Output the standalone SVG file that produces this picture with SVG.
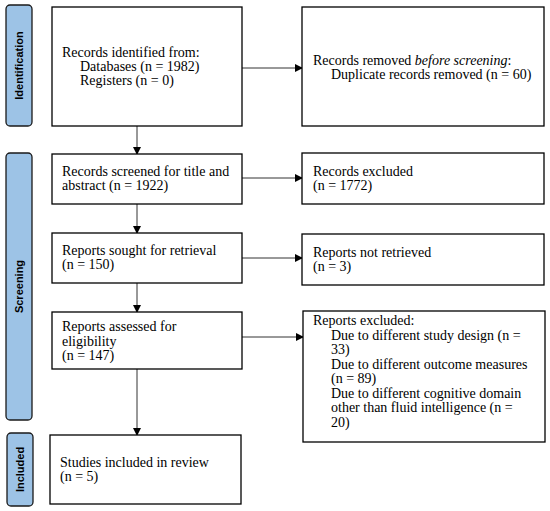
<svg xmlns="http://www.w3.org/2000/svg" width="550" height="511" viewBox="0 0 550 511">
<defs>
<marker id="ah" markerWidth="8" markerHeight="8" refX="7" refY="4" orient="auto" markerUnits="userSpaceOnUse">
<path d="M0,0 L8,4 L0,8 Z" fill="#000"/>
</marker>
</defs>
<style>
.box{fill:#fff;stroke:#000;stroke-width:1.3}
.bar{fill:#9DC3E6;stroke:#1a1a1a;stroke-width:1.3}
.t{font-family:"Liberation Serif","Times New Roman",serif;font-size:14px;fill:#000}
.lab{font-family:"Liberation Sans",Arial,sans-serif;font-size:11px;font-weight:bold;fill:#000}
.c{stroke:#333;stroke-width:1;fill:none}
</style>
<rect width="550" height="511" fill="#fff"/>
<g id="phase-identification">
<rect class="bar" x="6" y="5" width="26" height="121" rx="4"/>
<text class="lab" transform="translate(23,65.5) rotate(-90)" text-anchor="middle">Identification</text>
</g>
<g id="phase-screening">
<rect class="bar" x="6" y="153" width="26" height="267" rx="4"/>
<text class="lab" transform="translate(23,286.5) rotate(-90)" text-anchor="middle">Screening</text>
</g>
<g id="phase-included">
<rect class="bar" x="7" y="433" width="26" height="73" rx="4"/>
<text class="lab" transform="translate(24,469.5) rotate(-90)" text-anchor="middle">Included</text>
</g>
<g id="connectors">
<line class="c" x1="242" y1="68" x2="302" y2="68" marker-end="url(#ah)"/>
<line class="c" x1="137" y1="126" x2="137" y2="154" marker-end="url(#ah)"/>
<line class="c" x1="242" y1="178" x2="302" y2="178" marker-end="url(#ah)"/>
<line class="c" x1="137" y1="204" x2="137" y2="233" marker-end="url(#ah)"/>
<line class="c" x1="242" y1="258" x2="302" y2="258" marker-end="url(#ah)"/>
<line class="c" x1="137" y1="283" x2="137" y2="312" marker-end="url(#ah)"/>
<line class="c" x1="242" y1="337" x2="303" y2="337" marker-end="url(#ah)"/>
<line class="c" x1="137" y1="369" x2="137" y2="435" marker-end="url(#ah)"/>
</g>
<g id="identified">
<rect class="box" x="52" y="7" width="190" height="119"/>
<text class="t" x="62" y="57">Records identified from:</text>
<text class="t" x="80" y="71">Databases (n = 1982)</text>
<text class="t" x="80" y="85">Registers (n = 0)</text>
</g>
<g id="removed">
<rect class="box" x="302" y="7" width="242" height="119"/>
<text class="t" x="313" y="65">Records removed <tspan font-style="italic">before screening</tspan>:</text>
<text class="t" x="331" y="79">Duplicate records removed (n = 60)</text>
</g>
<g id="screened">
<rect class="box" x="52" y="154" width="190" height="50"/>
<text class="t" x="62" y="176">Records screened for title and</text>
<text class="t" x="62" y="190">abstract (n = 1922)</text>
</g>
<g id="excluded">
<rect class="box" x="302" y="153" width="242" height="51"/>
<text class="t" x="313" y="176">Records excluded</text>
<text class="t" x="313" y="190">(n = 1772)</text>
</g>
<g id="sought">
<rect class="box" x="52" y="233" width="190" height="50"/>
<text class="t" x="62" y="255">Reports sought for retrieval</text>
<text class="t" x="62" y="269">(n = 150)</text>
</g>
<g id="not-retrieved">
<rect class="box" x="302" y="234" width="242" height="51"/>
<text class="t" x="313" y="257">Reports not retrieved</text>
<text class="t" x="313" y="271">(n = 3)</text>
</g>
<g id="assessed">
<rect class="box" x="52" y="312" width="190" height="57"/>
<text class="t" x="62" y="331">Reports assessed for</text>
<text class="t" x="62" y="345.5">eligibility</text>
<text class="t" x="62" y="360">(n = 147)</text>
</g>
<g id="reports-excluded">
<rect class="box" x="303" y="311" width="242" height="131"/>
<text class="t" x="313" y="325">Reports excluded:</text>
<text class="t" x="331" y="339.5">Due to different study design (n =</text>
<text class="t" x="331" y="354">33)</text>
<text class="t" x="331" y="368.5">Due to different outcome measures</text>
<text class="t" x="331" y="383">(n = 89)</text>
<text class="t" x="331" y="397.5">Due to different cognitive domain</text>
<text class="t" x="331" y="412">other than fluid intelligence (n =</text>
<text class="t" x="331" y="426.5">20)</text>
</g>
<g id="included">
<rect class="box" x="50" y="435" width="191" height="69"/>
<text class="t" x="60" y="467">Studies included in review</text>
<text class="t" x="60" y="481">(n = 5)</text>
</g>
</svg>
